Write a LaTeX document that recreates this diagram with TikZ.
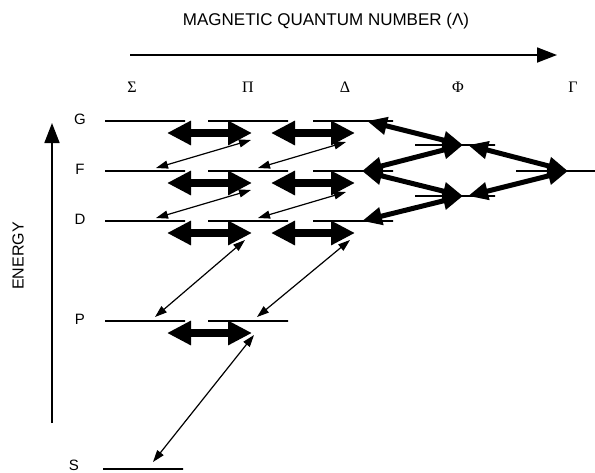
\documentclass[tikz,border=0pt]{standalone}
\usepackage{fontspec}
\setmainfont{Liberation Sans}
\newfontfamily\greekfont{Liberation Serif}
\usetikzlibrary{arrows.meta, positioning}

\begin{document}
\begin{tikzpicture}[
            x=1pt, y=-1pt,
            % energy levels
            level/.style={
                draw, rectangle,
                line width=1.8pt,
                minimum width=80pt,
                minimum height=0pt,
                inner sep=0pt
            },
            term/.style={font=\fontsize{15}{17}\selectfont},
            lam/.style={font=\greekfont\fontsize{16}{18}\selectfont},
            bigarrow/.style={line width=8.5pt, {Triangle[length=24pt,width=23pt]}-{Triangle[length=24pt,width=23pt]}},
            medarrow/.style={line width=5pt, {Triangle[length=20pt,width=17pt]}-{Triangle[length=20pt,width=17pt]}},
            smallarrow/.style={line width=1.2pt, {Triangle[length=12pt,width=8pt]}-{Triangle[length=12pt,width=8pt]}},
            axisarrow/.style={line width=1.8pt, -{Triangle[length=20pt,width=15pt]}}
        ]
        \useasboundingbox (0,0) rectangle (595,472);

        % Axes
        \coordinate (E0) at (52,423);
        \coordinate (E1) at (52,123);
        \draw[axisarrow] (E0) -- (E1);
        \node[term, font=\fontsize{16}{18}\selectfont, rotate=90] (energy) at (18,256) {ENERGY};
        \coordinate (L0) at (130,55);
        \coordinate (L1) at (557,55);
        \draw[axisarrow] (L0) -- (L1);
        \node[term, font=\fontsize{17}{19}\selectfont] (title) at (326,21) {MAGNETIC QUANTUM NUMBER (Λ)};

        % Lambda labels
        \node[lam] (lsig) at (132,87) {Σ};
        \node[lam] (lpi) at (248,87) {Π};
        \node[lam] (ldel) at (345,87) {Δ};
        \node[lam] (lphi) at (458,87) {Φ};
        \node[lam] (lgam) at (573,87) {Γ};

        % Levels
        \foreach \r/\y in {G/121, F/171, D/221} {
            \node[level] (\r-sig) at (145,\y) {};
            \node[level] (\r-pi) at (248,\y) {};
            \node[level] (\r-del) at (353,\y) {};
            \node[term] (lab\r) at (80,\y-2) {\r};
        }
        \node[level] (P-sig) at (145,321) {};
        \node[level] (P-pi) at (248,321) {};
        \node[term] (labP) at (80,319) {P};
        \node[level] (S-sig) at (143,469) {};
        \node[term] (labS) at (74,465) {S};
        \node[level] (phi-up) at (455,145) {};
        \node[level] (phi-lo) at (455,196) {};
        \node[level] (gam) at (556,171) {};

        % Coupling arrows
        \foreach \r in {G,F,D} {
            \draw[bigarrow] ([xshift=22pt,yshift=-12pt]\r-sig.center) -- ([xshift=4pt,yshift=-12pt]\r-pi.center);
            \draw[bigarrow] ([xshift=23pt,yshift=-12pt]\r-pi.center) -- ([xshift=2pt,yshift=-12pt]\r-del.center);
        }
        \draw[bigarrow] ([xshift=22pt,yshift=-12pt]P-sig.center) -- ([xshift=4pt,yshift=-12pt]P-pi.center);

        % Transitions
        \foreach \u/\l in {G/F, F/D} {
            \draw[smallarrow] ([xshift=11pt,yshift=3pt]\l-sig.center) -- ([xshift=3pt,yshift=-19pt]\u-pi.center);
            \draw[smallarrow] ([xshift=10pt,yshift=3pt]\l-pi.center) -- ([xshift=-7pt,yshift=-21pt]\u-del.center);
        }
        \draw[smallarrow] ([xshift=10pt,yshift=4pt]P-sig.center) -- ([xshift=-3pt,yshift=-19pt]D-pi.center);
        \draw[smallarrow] ([xshift=9pt,yshift=4pt]P-pi.center) -- ([xshift=-3pt,yshift=-19pt]D-del.center);
        \draw[smallarrow] ([xshift=10pt,yshift=7pt]S-sig.center) -- ([xshift=6pt,yshift=-14pt]P-pi.center);

        % Phi and Gamma
        \draw[medarrow] ([xshift=14pt]G-del.center) -- ([xshift=8pt]phi-up.center);
        \draw[medarrow] ([xshift=9pt]F-del.center) -- ([xshift=8pt]phi-up.center);
        \draw[medarrow] ([xshift=9pt]F-del.center) -- ([xshift=8pt]phi-lo.center);
        \draw[medarrow] ([xshift=9pt]D-del.center) -- ([xshift=8pt]phi-lo.center);
        \draw[medarrow] ([xshift=13pt]phi-up.center) -- ([xshift=12pt]gam.center);
        \draw[medarrow] ([xshift=13pt]phi-lo.center) -- ([xshift=12pt]gam.center);

\end{tikzpicture}
\end{document}
